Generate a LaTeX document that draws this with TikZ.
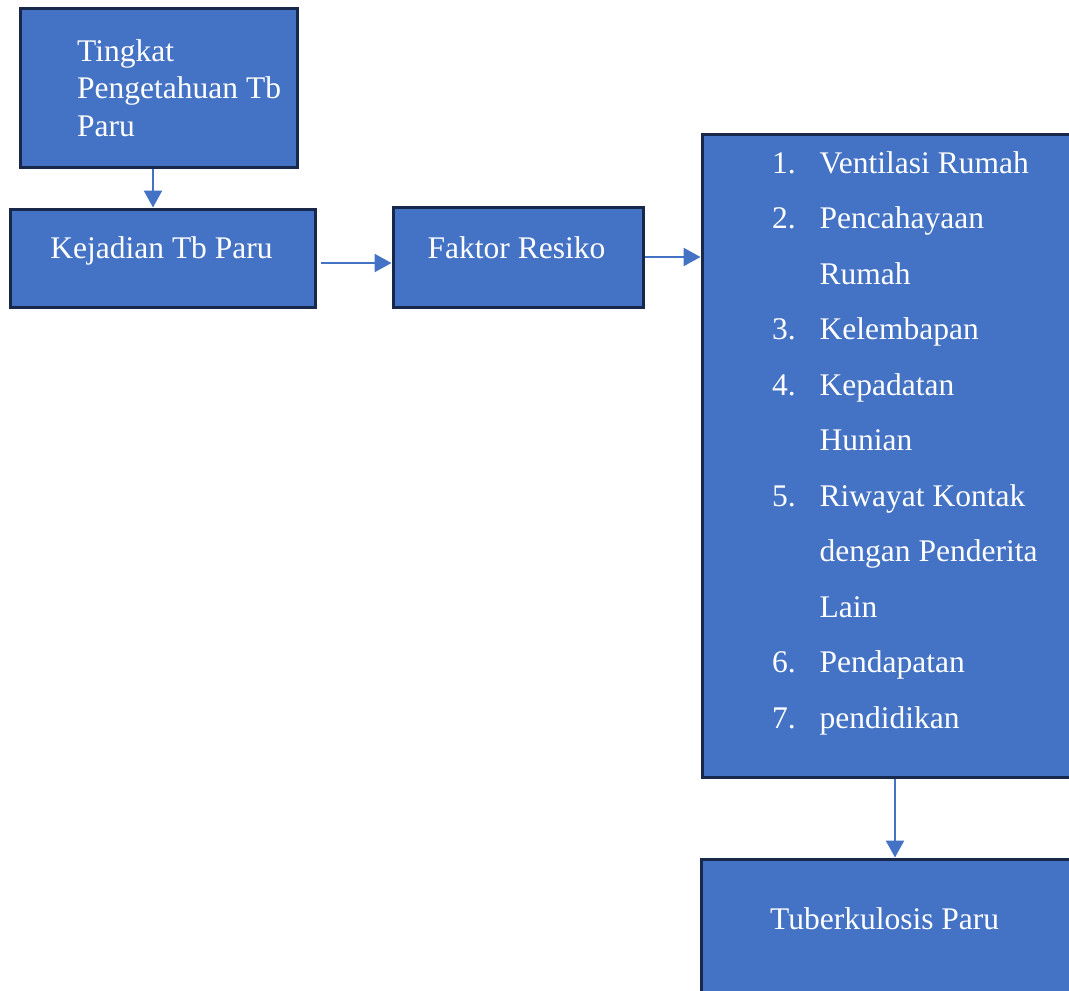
\documentclass[tikz,border=0pt]{standalone}
\usepackage{fontspec}
\setmainfont{Liberation Serif}
\usepackage{tikz}
\usetikzlibrary{positioning}
\usetikzlibrary{shapes,arrows,calc,arrows.meta}
\definecolor{boxfill}{HTML}{4472C4}
\definecolor{boxline}{HTML}{17284A}

\begin{document}
\begin{tikzpicture}[x=1pt,y=-1pt,
    box/.style={draw=boxline,fill=boxfill,line width=3pt,rectangle,inner sep=0pt},
    txt/.style={text=white,inner sep=0pt,anchor=base west,font=\fontsize{31.5}{37.5}\selectfont},
    link/.style={draw=boxfill,line width=2.5pt,-{Triangle[length=17pt,width=18pt]}}]
  \useasboundingbox (0,0) rectangle (1069,991);
    \node[box,minimum width=277,minimum height=159] (tingkat) at (158.5,87.5) {};
    \node[box,minimum width=305,minimum height=98] (kejadian) at (162.5,258) {};
    \node[box,minimum width=250,minimum height=100] (faktor) at (518,257) {};
    \node[box,minimum width=380,minimum height=643] (daftar) at (892,455.5) {};
    \node[box,minimum width=380,minimum height=160] (tbc) at (891,939) {};
  % teks
    \node[txt] (t1) at (77,61) {Tingkat};
    \node[txt] (t2) at (77,98.5) {Pengetahuan Tb};
    \node[txt] (t3) at (77,136) {Paru};
    \node[txt,anchor=base] (tkejadian) at (161.5,258) {Kejadian Tb Paru};
    \node[txt,anchor=base] (tfaktor) at (516.5,258) {Faktor Resiko};
    \node[txt] (ttbc) at (770,929) {Tuberkulosis Paru};
  \foreach \n/\lbl [count=\i] in {1./Ventilasi Rumah,2./Pencahayaan,/Rumah,3./Kelembapan,
      4./Kepadatan,/Hunian,5./Riwayat Kontak,/dengan Penderita,/Lain,6./Pendapatan,7./pendidikan}{
    \node[txt] (num\i) at (772,{173+55.5*(\i-1)}) {\n};
    \node[txt] (item\i) at (819.5,{173+55.5*(\i-1)}) {\lbl};
  }
  % panah
  \path[link] ([xshift=-5.5pt]tingkat.south) -- ([xshift=-5.5pt]tingkat.south |- kejadian.north);
  \path[link] ([xshift=4pt,yshift=-5pt]kejadian.east) -- ([yshift=-5pt]kejadian.east -| faktor.west);
  \path[link] (faktor.east) -- (faktor.east -| daftar.west);
  \path[link] ([xshift=3pt]daftar.south) -- ([xshift=3pt]daftar.south |- tbc.north);
\end{tikzpicture}
\end{document}
